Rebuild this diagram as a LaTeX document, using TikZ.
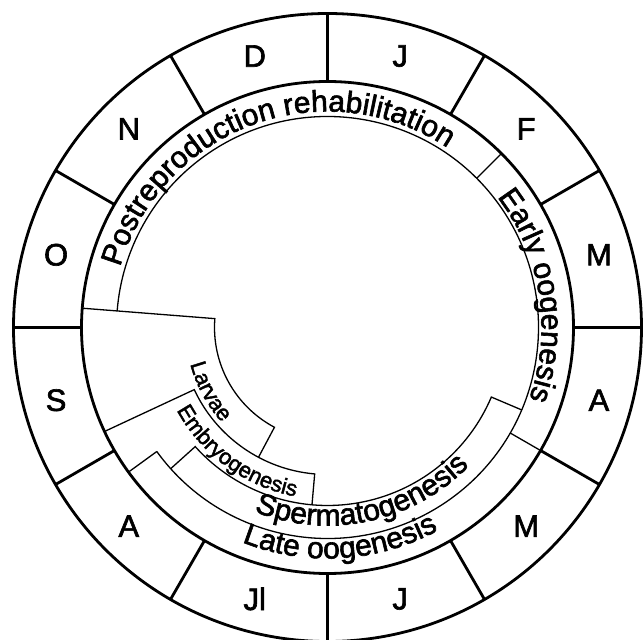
\documentclass[tikz,border=0pt]{standalone}
\usepackage{fontspec}
\setmainfont{Liberation Sans}[FakeBold=2]
\usetikzlibrary{decorations.text}

\begin{document}
\begin{tikzpicture}[x=1pt,y=1pt,
  ring/.style={line width=2.8pt},
  phase/.style={line width=1.3pt},
  month/.style={font=\fontsize{31}{31}\selectfont,inner sep=0pt},
  arclabel/.style 2 args={decorate,decoration={text along path,
    text align=center,text={|\fontsize{#1}{#1}\selectfont|#2}}}]
\useasboundingbox (-327.5,-312.5) rectangle (315.5,327.5);
\draw[ring] (0,0) circle[radius=314pt] (0,0) circle[radius=246pt];
\foreach \a in {0,30,...,330}
  \draw[ring] (\a:246pt) -- (\a:314pt);
\foreach \m [count=\i] in {J,F,M,A,M,J,Jl,A,S,O,N,D}
  \node[month] (m\i) at ({105-30*\i}:281pt) {\m};
\draw[phase] (-144:211pt) arc[start angle=-144,end angle=175.5,radius=211pt];
\draw[phase] (45:211pt) -- (45:246pt);
\draw[phase] (-30:211pt) -- (-30:246pt);
\draw[phase] (-144:211pt) -- (-144:246pt);
\draw[phase] (175.5:246pt) -- (175.5:113pt)
  arc[start angle=175.5,end angle=242,radius=113pt] -- (242:147pt);
\draw[phase] (205:246pt) -- (205:147pt)
  arc[start angle=205,end angle=265,radius=147pt] -- (265:178pt);
\draw[phase] (222:211pt) -- (222:178pt)
  arc[start angle=222,end angle=337,radius=178pt] -- (337:211pt);
\path[arclabel={30}{Postreproduction rehabilitation}]
  (170:216pt) arc[start angle=170,end angle=50,radius=216pt];
\path[arclabel={30}{Early oogenesis}]
  (45:214pt) arc[start angle=45,end angle=-27,radius=214pt];
\path[arclabel={30}{Spermatogenesis}]
  (230:198pt) arc[start angle=230,end angle=334,radius=198pt];
\path[arclabel={30}{Late oogenesis}]
  (222:231pt) arc[start angle=222,end angle=325,radius=231pt];
\path[arclabel={22}{Embryogenesis}]
  (200:172pt) arc[start angle=200,end angle=268,radius=172pt];
\path[arclabel={22}{Larvae}]
  (180:142pt) arc[start angle=180,end angle=237,radius=142pt];
\end{tikzpicture}
\end{document}
